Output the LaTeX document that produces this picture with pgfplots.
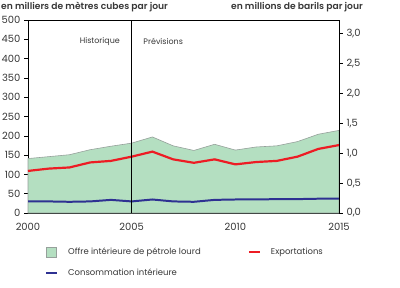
\documentclass[border=0pt]{standalone}
\usepackage{pgfplots}
\pgfplotsset{compat=1.18}
\usepackage{fontspec}
\setmainfont{Poppins}
\newfontfamily\boldf{Poppins}[UprightFont=* SemiBold]

\definecolor{offre}{RGB}{180,223,193}
\definecolor{offreedge}{RGB}{150,160,155}
\definecolor{expo}{RGB}{237,28,36}
\definecolor{conso}{RGB}{46,49,146}
\definecolor{txt}{RGB}{55,55,55}

\pgfplotstableread{
year offre expo conso
2000 141 109 30
2001 146 115 30
2002 151 118 29
2003 164 131 30
2004 173 135 34
2005 181 146 30
2006 197 159 35
2007 174 139 30
2008 162 130 29
2009 178 139 34
2010 163 126 35
2011 171 132 35
2012 174 135 36
2013 185 146 36
2014 204 166 37
2015 214 176 37
}\data

\begin{document}
\begin{tikzpicture}
\useasboundingbox (-28bp,-75bp) rectangle (372bp,213bp);

\begin{axis}[
    scale only axis,
    width=311bp, height=193bp,
    xmin=2000, xmax=2015, ymin=0, ymax=500,
    xtick={2000,2005,2010,2015},
    ytick={0,50,...,500},
    x tick label style={/pgf/number format/1000 sep={}, yshift=-3bp},
    /pgf/number format/assume math mode=true,
    tick label style={font=\fontsize{10}{12}\selectfont, text=txt},
    tick align=outside,
    major tick length=4bp,
    xtick style={draw=none},
    axis line style={black, line width=1pt},
    every tick/.style={black, line width=0.6pt},
    axis y line*=left,
    axis x line*=bottom,
    clip=false,
    legend columns=2,
    legend cell align=left,
    legend style={draw=none, fill=none, at={(0.045,-0.16)}, anchor=north west,
        font=\fontsize{8.5}{10}\selectfont, text=txt,
        /tikz/every odd column/.append style={column sep=8bp},
        /tikz/every even column/.append style={column sep=45bp},
        row sep=9bp},
]
\addplot[fill=offre, draw=offreedge, line width=0.6pt,
    legend image code/.code={\draw[fill=offre, draw=offreedge, line width=0.6pt] (0bp,-5bp) rectangle (10bp,5bp);}]
    table[x=year, y=offre] {\data} \closedcycle;
\addlegendentry{Offre intérieure de pétrole lourd}
\addplot[expo, line width=2.2pt, no markers,
    legend image code/.code={\draw[expo, line width=2.2pt] (0bp,0bp) -- (11bp,0bp);}]
    table[x=year, y=expo] {\data};
\addlegendentry{Exportations}
\addplot[conso, line width=2pt, no markers,
    legend image code/.code={\draw[conso, line width=2pt] (0bp,0bp) -- (11bp,0bp);}]
    table[x=year, y=conso] {\data};
\addlegendentry{Consommation intérieure}
\addplot[black, line width=1pt, forget plot] coordinates {(2005,0) (2005,500)};
\node[font=\fontsize{8}{10}\selectfont, text=txt, anchor=east] at (axis cs:2004.6,444) {Historique};
\node[font=\fontsize{8}{10}\selectfont, text=txt, anchor=west] at (axis cs:2005.4,444) {Prévisions};
\draw[black, line width=1pt] (rel axis cs:0,1) -- (rel axis cs:1,1);
\end{axis}

\begin{axis}[
    scale only axis,
    width=311bp, height=193bp,
    xmin=2000, xmax=2015, ymin=0, ymax=3.23,
    ytick={0,0.5,...,3.0},
    axis y line*=right,
    axis x line=none,
    yticklabel style={/pgf/number format/.cd, fixed, fixed zerofill, precision=1, use comma, assume math mode=true},
    tick label style={font=\fontsize{10}{12}\selectfont, text=txt},
    tick align=outside,
    major tick length=4bp,
    axis line style={black, line width=1pt},
    every tick/.style={black, line width=0.6pt},
]
\addplot[draw=none] coordinates {(2000,0)};
\end{axis}

\node[font=\boldf\fontsize{9.2}{11}\selectfont, text=txt, anchor=west, inner sep=0pt] at (-27bp,206bp) {en milliers de mètres cubes par jour};
\node[font=\boldf\fontsize{9.2}{11}\selectfont, text=txt, anchor=east, inner sep=0pt] at (335bp,206bp) {en millions de barils par jour};
\end{tikzpicture}
\end{document}
